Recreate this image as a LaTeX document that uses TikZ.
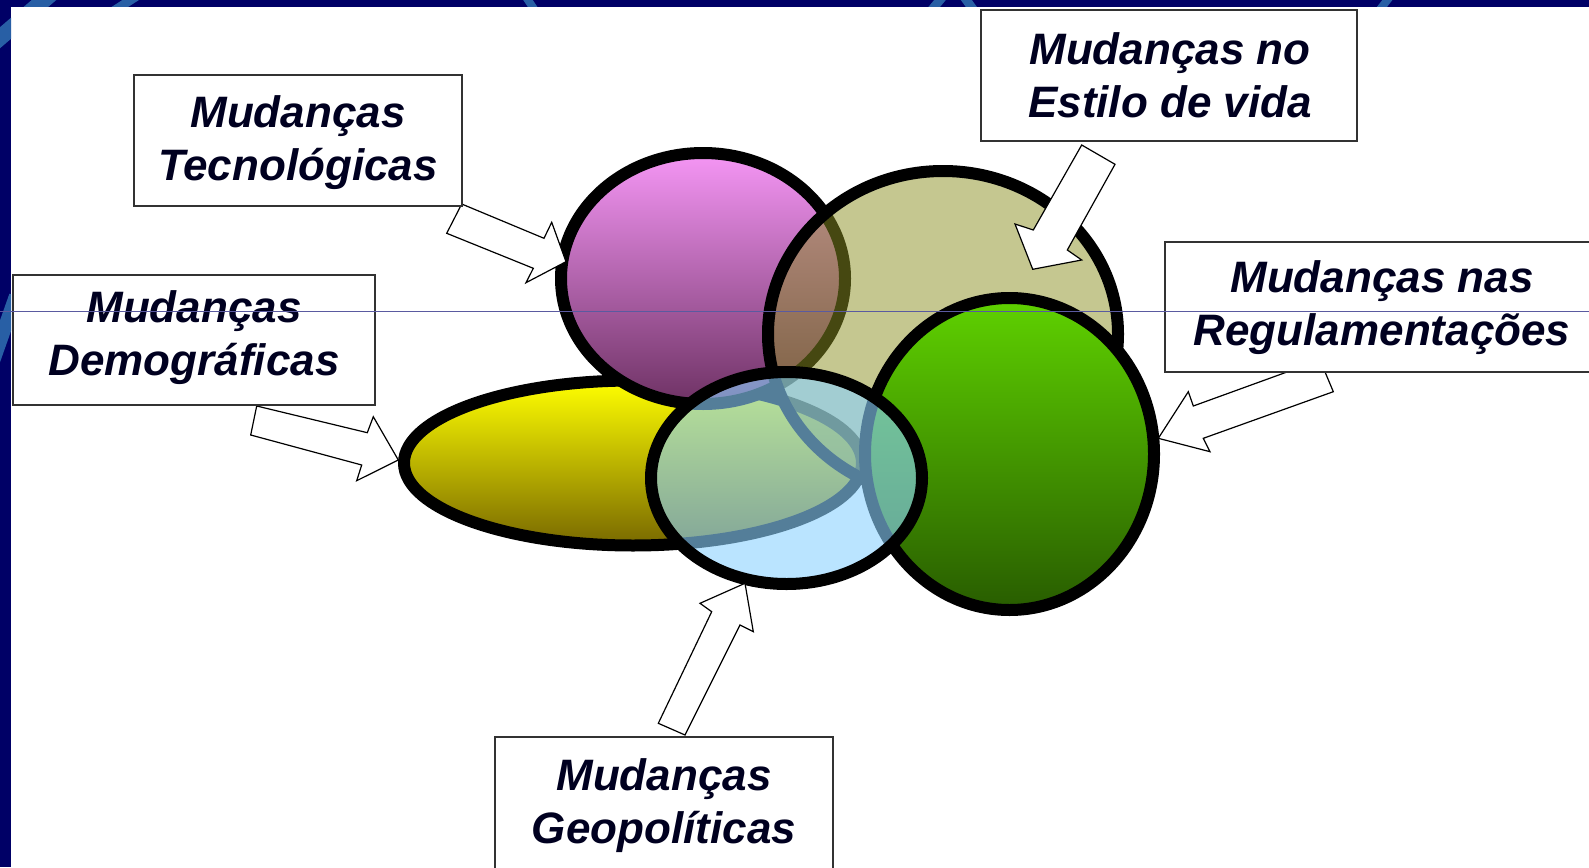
\documentclass[tikz,border=0pt]{standalone}
\usepackage{fontspec}
\setmainfont{Liberation Sans}
\definecolor{navy}{RGB}{0,0,102}
\definecolor{streak}{RGB}{40,95,165}
\definecolor{textcol}{RGB}{0,0,32}
\definecolor{boxline}{RGB}{50,50,50}
\definecolor{magtop}{RGB}{245,150,245}
\definecolor{magmid}{RGB}{190,100,185}
\definecolor{magbot}{RGB}{110,50,100}
\definecolor{gretop}{RGB}{95,210,0}
\definecolor{gremid}{RGB}{70,165,0}
\definecolor{grebot}{RGB}{40,92,0}
\definecolor{yeltop}{RGB}{255,255,0}
\definecolor{yelmid}{RGB}{225,215,0}
\definecolor{yelbot}{RGB}{120,104,0}
\definecolor{olivefill}{RGB}{140,145,35}
\definecolor{bluefill}{RGB}{140,210,255}
\definecolor{hline}{RGB}{90,90,160}
\tikzset{
  outl/.style={line width=12pt, draw=black},
  boxst/.style={draw=boxline, line width=1.5pt, fill=white, inner sep=0pt},
  lbl/.style={font=\bfseries\itshape\fontsize{44}{53}\selectfont, text=textcol, align=center, inner sep=0pt},
  barrow/.style={draw=black, line width=1.2pt, fill=white, line join=miter},
  streakst/.style={draw=streak, line cap=butt},
}
\begin{document}
\begin{tikzpicture}[x=1pt,y=-1pt]
\useasboundingbox (0,0) rectangle (1589,867);
% background
\fill[navy] (0,0) rectangle (1589,867);
\fill[white] (11,7) rectangle (1589,867);
\begin{scope}
  \clip (0,0) rectangle (1589,7) (0,0) rectangle (11,867);
  \draw[streakst, line width=16pt] (-12,48) -- (58,-12);
  \draw[streakst, line width=9pt] (112,12) -- (140,-6);
  \draw[streakst, line width=8pt] (524,-6) -- (536,12);
  \draw[streakst, line width=9pt] (930,12) -- (945,-6);
  \draw[streakst, line width=9pt] (962,-6) -- (975,12);
  \draw[streakst, line width=8pt] (1378,12) -- (1392,-6);
  \draw[streakst, line width=14pt] (16,296) -- (-8,364);
\end{scope}
% ellipses
\draw[outl, top color=yeltop, middle color=yelmid, bottom color=yelbot] (633,463) ellipse [x radius=229, y radius=82.5];
\draw[outl, top color=magtop, middle color=magmid, bottom color=magbot] (703,278.5) ellipse [x radius=142, y radius=125.5];
\draw[outl, fill=olivefill, fill opacity=0.5] (943,334) ellipse [x radius=175, y radius=163];
\draw[outl, top color=gretop, middle color=gremid, bottom color=grebot] (1009.5,454) ellipse [x radius=144.5, y radius=156];
\draw[outl, fill=bluefill, fill opacity=0.6] (786.5,478) ellipse [x radius=135.5, y radius=106];
% block arrows
\draw[barrow] (461.7,204) -- (544,238.3) -- (551.7,222.3) -- (566,261.7) -- (526,282.7) -- (533.3,268.3) -- (446.7,233.3) -- cycle;
\draw[barrow] (1081.7,145) -- (1115,164.3) -- (1067.3,250) -- (1081.7,260) -- (1032.7,269.3) -- (1015,224) -- (1033.3,230) -- cycle;
\draw[barrow] (1320,360) -- (1333.3,391.7) -- (1203.3,438.3) -- (1210,451.7) -- (1158.3,438.3) -- (1188.3,391.7) -- (1193.3,406) -- cycle;
\draw[barrow] (256.7,406) -- (367.3,432.7) -- (373.3,416.7) -- (398.3,460) -- (356.7,480.7) -- (361.7,465) -- (250.7,435) -- cycle;
\draw[barrow] (658.3,723.3) -- (711.7,611.7) -- (700,603.3) -- (745,583.3) -- (753.3,631.7) -- (740,625) -- (685,735) -- cycle;
% boxes
\node[boxst, minimum width=328pt, minimum height=131pt] (btec) at (298,140.5) {};
\node[boxst, minimum width=376pt, minimum height=131pt] (best) at (1169,75.5) {};
\node[boxst, minimum width=362pt, minimum height=130pt] (bdem) at (194,340) {};
\node[boxst, minimum width=435pt, minimum height=130pt] (breg) at (1382.5,307) {};
\node[boxst, minimum width=338pt, minimum height=143pt] (bgeo) at (664,808.5) {};
% labels
\node[lbl] (ttec) at (298,143) {Mudanças\\Tecnológicas};
\node[lbl] (test) at (1170,75.6) {Mudanças no\\Estilo de vida};
\node[lbl] (tdem) at (194,338) {Mudanças\\Demográficas};
\node[lbl] (treg) at (1382,307.3) {Mudanças nas\\Regulamentações};
\node[lbl] (tgeo) at (664,805.6) {Mudanças\\Geopolíticas};
% thin horizontal line
\draw[hline, line width=1pt] (0,311) -- (1589,311);
\end{tikzpicture}
\end{document}
